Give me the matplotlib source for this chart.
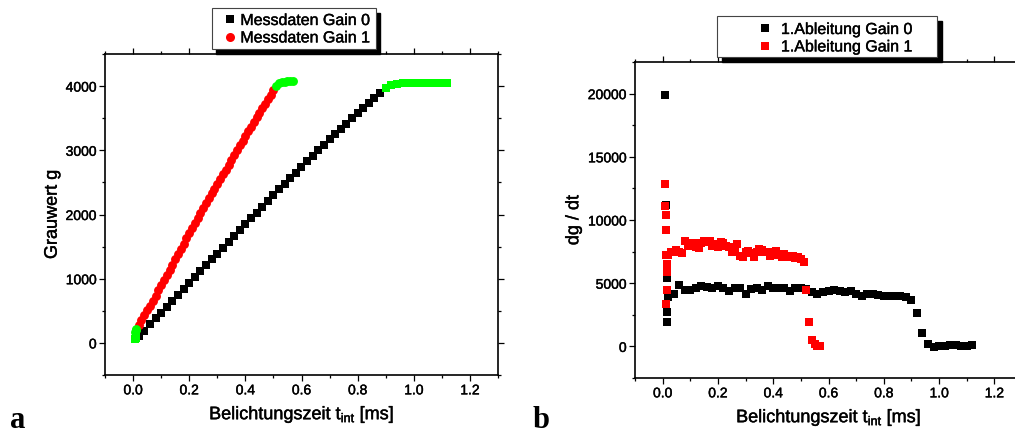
import numpy as np
import matplotlib.pyplot as plt
import matplotlib.patheffects as pe
from matplotlib.lines import Line2D
from matplotlib.patches import Rectangle
from matplotlib.ticker import MultipleLocator

plt.rcParams['font.family'] = ['Liberation Sans', 'DejaVu Sans']
plt.rcParams['mathtext.fontset'] = 'custom'
plt.rcParams['mathtext.rm'] = 'Liberation Sans'

# --- Messdaten (Grauwert ueber Belichtungszeit) ---
t_gain0 = np.round(np.arange(0.02, 0.885, 0.02), 2)
g_gain0 = [110, 193, 291, 381, 470, 562, 658, 751, 844, 939, 1031, 1118, 1211, 1303, 1386,
           1477, 1569, 1658, 1753, 1845, 1938, 2030, 2118, 2211, 2304, 2395, 2481, 2564, 2650,
           2738, 2827, 2914, 3000, 3087, 3170, 3250, 3333, 3415, 3496, 3576, 3656, 3735, 3815, 3894]
t_gain1 = np.round(np.arange(0.02, 0.505, 0.01), 2)
g_gain1 = [280, 354, 429, 506, 580, 654, 737, 817, 897, 979, 1057, 1135, 1217, 1300, 1383,
           1466, 1546, 1627, 1706, 1788, 1870, 1950, 2028, 2103, 2181, 2262, 2333, 2404, 2478,
           2554, 2628, 2699, 2773, 2850, 2926, 3001, 3076, 3147, 3219, 3295, 3367, 3438, 3511,
           3583, 3654, 3725, 3795, 3866, 3935]

# nicht verwendete Punkte (Anfang / Saettigung), gruen
t_sat0 = [0.008, 0.010, 0.012] + list(np.round(np.arange(0.90, 1.125, 0.02), 2))
g_sat0 = [65, 80, 95, 3967, 4019, 4040, 4044, 4043, 4043, 4044, 4046, 4048, 4049, 4049, 4051]
t_sat1 = [0.008, 0.010, 0.012] + list(np.round(np.arange(0.51, 0.575, 0.01), 2))
g_sat1 = [170, 195, 215, 4001, 4046, 4065, 4070, 4072, 4073, 4073]

# --- 1. Ableitung dg/dt ---
t_d0 = [0.010, 0.011, 0.016, 0.018, 0.014, 0.014] + list(np.round(np.arange(0.04, 1.125, 0.02), 2))
d_d0 = [19900, 11150, 5400, 3900, 2700, 1900,
        4150, 4880, 4490, 4470, 4600, 4800, 4670, 4650, 4750, 4600, 4360, 4650, 4600, 4150,
        4540, 4600, 4470, 4750, 4600, 4650, 4600, 4390, 4650, 4650, 4540, 4280, 4150, 4280,
        4390, 4470, 4360, 4280, 4360, 4150, 4010, 4170, 4120, 4070, 4010, 3990, 3960, 3990,
        3930, 3670, 2610, 1060, 190, -70, 0, 50, 100, 80, 50, 30, 100]
t_d1 = [0.010, 0.010, 0.012, 0.011, 0.013, 0.015, 0.015, 0.014, 0.016, 0.012] + \
       list(np.round(np.arange(0.02, 0.575, 0.01), 2))
d_d1 = [12850, 11100, 10400, 9200, 7200, 6500, 5850, 6200, 4450, 3320,
        7250, 7450, 7500, 7650, 7450, 7350, 8350, 7950, 8000, 8200,
        7850, 7800, 8200, 8300, 8250, 8350, 7950, 8100, 7900, 8250,
        8200, 7950, 7850, 7500, 7750, 8100, 7150, 7050, 7450, 7550,
        7400, 7100, 7450, 7700, 7600, 7450, 7500, 7150, 7200, 7550,
        7250, 7100, 7300, 7150, 7100, 7150, 7000, 7050, 6900, 6650,
        4500, 1900, 500, 200, 50, 0]

W, H = 1015, 435
fig = plt.figure(figsize=(W / 100, H / 100), dpi=100)
heavy = [pe.withStroke(linewidth=0.3, foreground='black')]  # slightly heavier glyphs


def box(x0, y0, x1, y1):
    # pixel box measured from the top left -> figure fraction rect
    return [x0 / W, 1 - y1 / H, (x1 - x0) / W, (y1 - y0) / H]


def style(ax, ylim, ymajor):
    ax.set_xlim(-0.1, 1.3)
    ax.set_ylim(*ylim)
    ax.xaxis.set_major_locator(MultipleLocator(0.2))
    ax.xaxis.set_minor_locator(MultipleLocator(0.1))
    ax.xaxis.set_major_formatter('{x:.1f}')
    ax.yaxis.set_major_locator(MultipleLocator(ymajor))
    ax.yaxis.set_minor_locator(MultipleLocator(ymajor / 2))
    ax.tick_params(which='both', direction='out', top=True, right=True,
                   labelsize=10, width=0.9, pad=2)
    ax.tick_params(which='major', length=4)
    ax.tick_params(which='minor', length=2.5)
    for s in ax.spines.values():
        s.set_linewidth(1.2)
    for lab in ax.get_xticklabels() + ax.get_yticklabels():
        lab.set_path_effects(heavy)


axA = fig.add_axes(box(105, 55, 498, 376))
axB = fig.add_axes(box(635, 63, 1022, 379))

axA.plot(t_gain0, g_gain0, ls='none', marker='s', ms=5.6, mew=0, color='black')
axA.plot(t_gain1, g_gain1, ls='none', marker='o', ms=6.4, mew=0, color='red')
axA.plot(t_sat0, g_sat0, ls='none', marker='s', ms=5.6, mew=0, color='#00ff00')
axA.plot(t_sat1, g_sat1, ls='none', marker='o', ms=6.4, mew=0, color='#00ff00')
style(axA, (-500, 4500), 1000)
axA.set_ylabel('Grauwert g', fontsize=13, labelpad=3.5, path_effects=heavy)
axA.set_xlabel('Belichtungszeit t$_\\mathregular{int}$ [ms]', fontsize=13, labelpad=5,
               path_effects=heavy)

axB.plot(t_d0, d_d0, ls='none', marker='s', ms=5.4, mew=0, color='black')
axB.plot(t_d1, d_d1, ls='none', marker='s', ms=5.4, mew=0, color='red')
style(axB, (-2500, 22500), 5000)
axB.set_ylabel('dg / dt', fontsize=13, labelpad=4, path_effects=heavy)
axB.set_xlabel('Belichtungszeit t$_\\mathregular{int}$ [ms]', fontsize=13, labelpad=5,
               path_effects=heavy)

# legend frames with a solid black drop shadow
for (x0, y0, x1, y1), (dx, dy) in [((212, 9, 376, 50), (4, 5)), ((717, 17, 937, 58), (5, 5))]:
    fig.add_artist(Rectangle(((x0 + dx) / W, 1 - (y1 + dy) / H), (x1 - x0) / W, (y1 - y0) / H,
                             transform=fig.transFigure, facecolor='black',
                             edgecolor='black', zorder=1))
    fig.add_artist(Rectangle((x0 / W, 1 - y1 / H), (x1 - x0) / W, (y1 - y0) / H,
                             transform=fig.transFigure, facecolor='white',
                             edgecolor='#444444', lw=0.8, zorder=2))

legA = [Line2D([], [], ls='none', marker='s', ms=5.5, mew=0, color='black'),
        Line2D([], [], ls='none', marker='o', ms=6.5, mew=0, color='red')]
la = fig.legend(legA, ['Messdaten Gain 0', 'Messdaten Gain 1'], loc='upper left',
                bbox_to_anchor=(222 / W, 1 - 14 / H), frameon=False, borderpad=0,
                borderaxespad=0, handlelength=1.0, handletextpad=0.15, labelspacing=0.15,
                fontsize=11.5)

legB = [Line2D([], [], ls='none', marker='s', ms=6, mew=0, color='black'),
        Line2D([], [], ls='none', marker='s', ms=6, mew=0, color='red')]
lb = fig.legend(legB, ['1.Ableitung Gain 0', '1.Ableitung Gain 1'], loc='upper left',
                bbox_to_anchor=(757 / W, 1 - 23 / H), frameon=False, borderpad=0,
                borderaxespad=0, handlelength=1.0, handletextpad=0.5, labelspacing=0.15,
                fontsize=11.5)
for txt in la.get_texts() + lb.get_texts():
    txt.set_path_effects(heavy)

fig.text(10 / W, 1 - 428 / H, 'a', family='Liberation Serif', weight='bold', fontsize=22)
fig.text(533 / W, 1 - 428 / H, 'b', family='Liberation Serif', weight='bold', fontsize=22)

fig.savefig('out.png', dpi=100)
